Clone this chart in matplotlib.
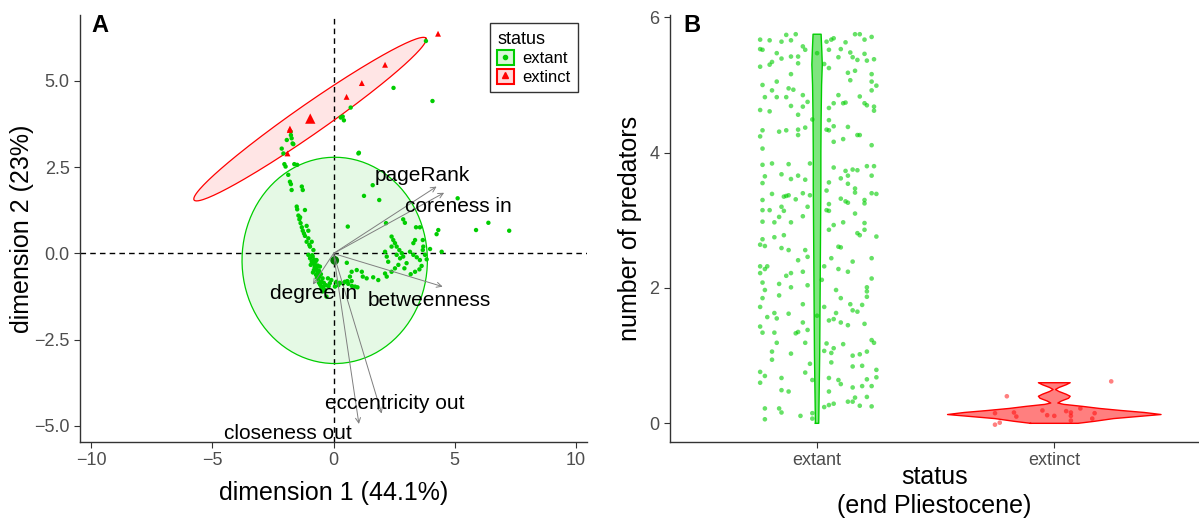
import numpy as np
import matplotlib
matplotlib.use("Agg")
import matplotlib.pyplot as plt
from matplotlib.lines import Line2D
from matplotlib.patches import Patch

plt.rcParams['font.family'] = ['Liberation Sans', 'DejaVu Sans']

# ---- panel A: PCA biplot ----
extant_x = [3.82, 2.48, 4.09, 0.71, 0.38, 0.43, 0.30, 1.05,
            -1.77, -1.76, -1.73, -1.69, -1.93, -2.14, -2.07, -1.66,
            -2.03, -1.98, -1.62, -1.50, -1.87, -1.80, -1.76, -1.73, -1.31, -1.27, -1.52, -1.50,
            -1.18, -1.41, -1.36, -1.31, -1.27, -1.11, -1.04, -1.18, -1.04, -1.11, -0.90, -0.97,
            -0.83, -1.04, -1.45, -1.38, -1.22, -1.00,
            -0.97, -0.90, -0.83, -0.76, -0.70, -0.94, -0.81, -0.67, -0.72, -0.58, -0.62, -0.49,
            -0.55, -0.42, -0.35, -0.29, -0.45, -0.86, -0.70, -0.56,
            -0.88, -0.80, -0.75, -0.65, -0.60, -0.52, -0.68, -0.40, -0.50, -0.30, -0.62, -0.78,
            -0.85, -0.60, -0.45,
            -0.23, -0.09, 0.12, 0.26, 0.47, 0.61, 0.76, 0.89, 0.99, 0.06, -0.15, 0.57, 0.40,
            0.75, -0.20, 0.20,
            0.59, 1.03, 1.26, 1.62, 1.89, 2.17, 2.88, 2.95, 3.41, 3.57, 4.33, 4.26, 5.13, 5.89,
            6.40, 7.26, 3.99, 4.47,
            2.40, 2.47, 2.54, 2.61, 2.72, 2.82, 2.75, 2.88, 2.68, 2.54, 2.40, 2.20, 2.26, 2.13,
            2.20, 1.85, 1.64, 1.37, 1.17, 0.96, 0.75, 0.68, 0.55, 1.21,
            3.16, 3.30, 3.44, 3.57, 3.64, 3.55, 3.37, 3.19, 3.71, 3.69, 3.37, 3.30, 3.02, 2.40,
            2.61, 3.78, 3.85, 2.93, 3.69, 2.13]
extant_y = [6.16, 4.80, 4.42, 4.23, 3.97, 3.86, 3.94, 2.92,
            3.53, 3.43, 3.34, 3.19, 3.29, 3.04, 2.90, 3.17,
            2.59, 2.52, 2.59, 2.57, 2.28, 2.08, 2.01, 1.84, 1.94, 1.84, 1.36, 1.28,
            1.26, 0.99, 0.88, 0.76, 0.66, 0.80, 0.66, 0.51, 0.44, 0.34, 0.34, 0.20,
            0.10, -0.04, 1.10, 1.05, 0.58, 0.25,
            -0.14, -0.23, -0.28, -0.36, -0.43, -0.33, -0.48, -0.53, -0.62, -0.67, -0.77, -0.82,
            -0.91, -0.96, -1.06, -1.25, -0.72, -0.09, -0.19, -0.38,
            -0.05, -0.18, -0.25, -0.35, -0.50, -0.60, -0.70, -0.85, -1.00, -0.92, -0.58, -0.40,
            -0.55, -0.85, -1.10,
            -0.72, -0.77, -0.82, -0.85, -0.82, -0.88, -0.94, -0.96, -0.98, -0.96, -0.86, -0.80, -0.87,
            -0.80, -0.95, -0.92,
            0.78, 2.90, 1.67, 1.98, 1.55, 0.88, 0.99, 0.89, 0.76, 0.76, 0.68, 0.56, 1.60, 0.68,
            0.89, 0.66, 0.13, 0.05,
            0.49, 0.39, 0.30, 0.20, 0.10, 0.01, -0.14, -0.09, -0.33, -0.43, -0.53, -0.09, -0.24, -0.58,
            -0.67, -0.77, -0.69, -0.72, -0.53, -0.48, -0.53, -0.67, -0.27, -0.67,
            0.05, -0.04, -0.11, -0.19, -0.36, -0.46, -0.53, -0.60, 0.20, 0.10, 0.39, 0.30, -0.28, 0.20,
            -0.04, -0.04, -0.17, -0.43, 0.39, 0.05]
extinct_x = [4.32, 2.13, 1.17, 0.54, -1.81, -1.80, -1.90]
extinct_y = [6.37, 5.47, 4.94, 4.54, 3.58, 3.62, 2.90]
mean_extant = (0.05, -0.20)
mean_extinct = (-0.96, 3.91)

# ellipses: centre, first and second half-axis vectors
ell_extant = [(0.05, -0.20), (3.83, 0.0), (0.0, 2.99)]
ell_extinct = [(-0.97, 3.895), (4.79, 2.345), (0.35, -0.35)]

var_names = ['pageRank', 'coreness in', 'betweenness', 'degree in', 'eccentricity out', 'closeness out']
var_x = [4.26, 4.57, 4.51, -0.85, 1.99, 1.05]
var_y = [1.94, 1.76, -0.96, -0.90, -4.64, -4.94]
lab_x = [3.69, 5.15, 3.94, -0.81, 2.54, -1.87]
lab_y = [2.25, 1.37, -1.35, -1.17, -4.36, -5.23]

# ---- panel B: number of predators ----
b_extant_off = [-0.24, -0.20, -0.15, -0.13, -0.09, -0.11, -0.24, -0.23, -0.06, -0.05, 0.04, 0.06, 0.07, 0.05,
                0.10, 0.12, 0.16, 0.18, 0.20, 0.23, 0.00,
                -0.20, -0.19, -0.24, -0.17, -0.15, -0.11, -0.08, -0.08, 0.03, 0.05, 0.09, 0.14, 0.15,
                0.17, 0.20, 0.21, 0.24, 0.13, 0.16, 0.23, -0.11, -0.23, -0.17, -0.12, -0.10, 0.23,
                0.25, 0.23, 0.14, 0.09, -0.19, -0.22, -0.17, -0.13, -0.06,
                -0.20, -0.24, -0.11, -0.06, -0.04, 0.05, 0.07, 0.11, 0.12, 0.18, 0.20, 0.21, 0.24,
                0.24, -0.08, -0.02, 0.05, 0.07, -0.16, -0.13, -0.23, -0.08, -0.08, -0.05, 0.04, 0.05,
                0.13, 0.17, 0.18, 0.23, 0.11, 0.07,
                -0.24, -0.23, -0.19, -0.12, -0.23, -0.22, -0.23, -0.15, -0.11, -0.08, -0.05, -0.03,
                0.07, 0.10, 0.12, 0.13, 0.15, 0.17, 0.21, 0.24, 0.23, 0.05, 0.13, 0.16, 0.16, 0.23,
                0.25, -0.23, -0.19, -0.14, -0.13, -0.12, -0.09, -0.06, -0.03, 0.04, 0.05, 0.10, 0.12,
                0.13, 0.20, 0.20,
                -0.23, -0.20, -0.15, -0.14, -0.16, -0.23, -0.18, -0.11, -0.06, -0.04, 0.04, 0.05, 0.07,
                0.11, 0.16, 0.17, 0.18, 0.20, 0.20, 0.25, -0.23, -0.18, -0.14, -0.24, -0.22, -0.15,
                -0.12, -0.05, -0.04, -0.08, 0.05, 0.09, 0.10, 0.06, 0.15, 0.23, -0.24, -0.22, -0.21,
                -0.24, -0.13, -0.11, -0.06, 0.03, 0.09, 0.13, 0.23, -0.23, -0.16, -0.04, -0.11, 0.02,
                0.21, -0.22, 0.08, 0.21, 0.21, -0.16, -0.23, 0.10, -0.24, -0.06, 0.03, 0.14, 0.19,
                0.15, -0.18, -0.12, 0.08, 0.17, -0.21, -0.17, 0.00, 0.05, 0.07, 0.10, 0.13, -0.06,
                0.20, -0.24, -0.18, -0.09, -0.08, -0.04, -0.23,
                -0.17, -0.05, 0.23, 0.24, 0.11, 0.07, 0.04, -0.19, -0.11, 0.03, 0.21, 0.18, 0.15,
                -0.19, 0.06, -0.03, 0.06, -0.24, 0.25, 0.15, 0.19, -0.22, -0.05, -0.15, -0.02, 0.05,
                0.09, 0.21, 0.25, -0.24, 0.10, 0.15, 0.19, 0.23, 0.05, -0.15, -0.12, 0.13, 0.15,
                0.16, 0.21, 0.07, 0.05, 0.03, 0.18, 0.23, -0.22, -0.16, -0.15, -0.02, -0.07, -0.02,
                -0.22]
b_extant_y = [5.67, 5.66, 5.64, 5.74, 5.75, 5.66, 5.53, 5.52, 5.57, 5.52, 5.64, 5.67, 5.69, 5.52,
              5.53, 5.63, 5.75, 5.75, 5.67, 5.71, 5.47,
              5.30, 5.34, 5.27, 5.47, 5.39, 5.42, 5.42, 5.32, 5.31, 5.25, 5.41, 5.48, 5.41,
              5.37, 5.46, 5.36, 5.38, 5.18, 5.21, 5.16, 5.16, 5.00, 5.05, 4.95, 4.93, 5.05,
              4.99, 4.92, 5.07, 4.85, 4.92, 4.82, 4.82, 4.82, 4.85,
              4.61, 4.63, 4.69, 4.68, 4.75, 4.66, 4.73, 4.73, 4.74, 4.83, 4.73, 4.70, 4.68,
              4.62, 4.56, 4.49, 4.48, 4.39, 4.31, 4.33, 4.33, 4.34, 4.26, 4.37, 4.34, 4.33,
              4.38, 4.26, 4.26, 4.11, 4.20, 4.16,
              4.24, 4.06, 3.84, 3.83, 3.82, 3.65, 3.55, 3.68, 3.61, 3.66, 3.60, 3.84,
              3.78, 3.62, 3.73, 3.66, 3.75, 3.74, 3.80, 3.80, 3.66, 3.56, 3.54, 3.47, 3.41, 3.40,
              3.39, 3.30, 3.39, 3.35, 3.36, 3.37, 3.31, 3.40, 3.37, 3.44, 3.24, 3.32, 3.28,
              3.26, 3.30, 3.25,
              3.15, 3.15, 3.20, 3.14, 3.05, 2.98, 2.97, 2.97, 3.06, 3.20, 3.15, 3.14, 2.93,
              2.97, 3.10, 2.81, 2.78, 2.96, 2.86, 2.76, 2.72, 2.75, 2.78, 2.64, 2.62, 2.59,
              2.56, 2.56, 2.46, 2.41, 2.86, 2.61, 2.60, 2.44, 2.39, 2.44, 2.32, 2.28, 2.32,
              2.22, 2.18, 2.22, 2.24, 2.32, 2.28, 2.24, 2.14, 2.08, 2.06, 2.04, 2.01, 2.12,
              2.01, 1.97, 1.97, 1.95, 1.87, 1.89, 1.85, 1.85, 1.72, 1.76, 1.72, 1.76, 1.75,
              1.67, 1.63, 1.62, 1.63, 1.65, 1.57, 1.55, 1.59, 1.52, 1.54, 1.49, 1.45, 1.49,
              1.47, 1.43, 1.34, 1.33, 1.35, 1.38, 1.34,
              1.19, 1.19, 1.23, 1.19, 1.17, 1.11, 1.18, 1.06, 1.03, 1.07, 1.06, 1.02, 1.00,
              0.94, 1.04, 0.88, 0.90, 0.76, 0.79, 0.84, 0.85, 0.70, 0.75, 0.67, 0.64, 0.67,
              0.64, 0.65, 0.68, 0.60, 0.58, 0.53, 0.55, 0.55, 0.47, 0.49, 0.47, 0.32, 0.32,
              0.38, 0.39, 0.29, 0.27, 0.24, 0.26, 0.25, 0.22, 0.22, 0.16, 0.15, 0.11, 0.07,
              0.06]
b_extinct_off = [-0.20, 0.24, -0.25, -0.17, -0.16, -0.05, -0.23, -0.25, -0.03, 0.00, 0.07, 0.07,
                 0.07, 0.05, 0.11, 0.16, 0.17]
b_extinct_y = [0.40, 0.62, 0.15, 0.16, 0.10, 0.19, 0.01, -0.02, 0.12, 0.11, 0.16, 0.11, 0.04,
               0.18, 0.22, 0.07, 0.15]

violin_extant_y = [0.0, 0.5, 1.0, 1.5, 2.0, 2.5, 3.0, 3.5, 4.0, 4.5, 5.0, 5.3, 5.5, 5.75]
violin_extant_w = [0.007, 0.009, 0.011, 0.012, 0.013, 0.014, 0.015, 0.016, 0.016, 0.017, 0.019,
                   0.022, 0.020, 0.017]
violin_extinct_y = [0.00, 0.03, 0.07, 0.10, 0.13, 0.16, 0.19, 0.22, 0.25, 0.28, 0.30, 0.33, 0.37,
                    0.40, 0.43, 0.47, 0.50, 0.53, 0.57, 0.60]
violin_extinct_w = [0.10, 0.17, 0.25, 0.35, 0.45, 0.38, 0.28, 0.19, 0.12, 0.04, 0.015, 0.03, 0.06,
                    0.067, 0.05, 0.02, 0.005, 0.02, 0.05, 0.067]

green = '#00CD00'
red = '#FF0000'
tick_col = '#4D4D4D'

fig = plt.figure(figsize=(11.99, 5.25), dpi=100)
axA = fig.add_axes([80 / 1199, 83 / 525, 507 / 1199, 427 / 525])
axB = fig.add_axes([670 / 1199, 83 / 525, 529 / 1199, 427 / 525])

for ax in (axA, axB):
    for s in ('top', 'right'):
        ax.spines[s].set_visible(False)
    for s in ('left', 'bottom'):
        ax.spines[s].set_color('#333333')
        ax.spines[s].set_linewidth(1.0)
    ax.tick_params(colors='#333333', labelcolor=tick_col, labelsize=13, length=4, width=0.8)

# panel A
t = np.linspace(0, 2 * np.pi, 200)
for (c, a, b), col in ((ell_extant, green), (ell_extinct, red)):
    ex = c[0] + np.cos(t) * a[0] + np.sin(t) * b[0]
    ey = c[1] + np.cos(t) * a[1] + np.sin(t) * b[1]
    axA.fill(ex, ey, facecolor=col, alpha=0.1, edgecolor='none', zorder=1)
    axA.plot(ex, ey, color=col, lw=0.9, zorder=2)

axA.axhline(0, color='black', lw=1.0, ls=(0, (4, 3)), zorder=1.5)
axA.axvline(0, color='black', lw=1.0, ls=(0, (4, 3)), zorder=1.5)

axA.scatter(extant_x, extant_y, s=10, color=green, edgecolors='none', zorder=3)
axA.scatter(extinct_x, extinct_y, s=18, color=red, marker='^', edgecolors='none', zorder=3)
axA.scatter([mean_extant[0]], [mean_extant[1]], s=40, color='#007A00', edgecolors='none', zorder=3)
axA.scatter([mean_extinct[0]], [mean_extinct[1]], s=55, color=red, marker='^', edgecolors='none', zorder=3)

for name, vx, vy, lx, ly in zip(var_names, var_x, var_y, lab_x, lab_y):
    axA.annotate('', xy=(vx, vy), xytext=(0, 0),
                 arrowprops=dict(arrowstyle='->', color='#7F7F7F', lw=0.7,
                                 shrinkA=0, shrinkB=0, mutation_scale=9), zorder=4)
    axA.text(lx, ly, name, fontsize=15, ha='center', va='center', color='black', zorder=5)

axA.set_xlim(-10.475, 10.475)
axA.set_ylim(-5.464, 6.913)
axA.set_xticks([-10, -5, 0, 5, 10])
axA.set_yticks([-5, -2.5, 0, 2.5, 5])
axA.set_yticklabels(['\u22125.0', '\u22122.5', '0.0', '2.5', '5.0'])
axA.set_xlabel('dimension 1 (44.1%)', fontsize=18, labelpad=8)
axA.set_ylabel('dimension 2 (23%)', fontsize=18, va='center')
axA.yaxis.set_label_coords(-0.114, 0.5)

handles = [(Patch(facecolor=green, alpha=0.15), Patch(facecolor='none', edgecolor=green, lw=1.5),
            Line2D([], [], marker='o', color=green, ls='none', markersize=3)),
           (Patch(facecolor=red, alpha=0.15), Patch(facecolor='none', edgecolor=red, lw=1.5),
            Line2D([], [], marker='^', color=red, ls='none', markersize=4))]
leg = axA.legend(handles, ['extant', 'extinct'], title='status', loc='upper right',
                 bbox_to_anchor=(0.982, 0.981), borderaxespad=0, fontsize=12, title_fontsize=13,
                 handlelength=1.0, handleheight=1.0, handletextpad=0.5,
                 borderpad=0.45, labelspacing=0.15, frameon=True, fancybox=False)
leg.get_frame().set_edgecolor('black')
leg.get_frame().set_linewidth(1.0)
leg._legend_box.align = 'left'

# panel B
for pos, vy, vw, col in ((1, violin_extant_y, violin_extant_w, green),
                         (2, violin_extinct_y, violin_extinct_w, red)):
    vy = np.array(vy)
    vw = np.array(vw)
    xs = np.concatenate([pos - vw, (pos + vw)[::-1]])
    ys = np.concatenate([vy, vy[::-1]])
    axB.fill(xs, ys, facecolor=col, alpha=0.5, edgecolor='none', zorder=2)
    axB.plot(np.append(xs, xs[0]), np.append(ys, ys[0]), color=col, lw=1.0, zorder=3)

axB.scatter(1 + np.array(b_extant_off), b_extant_y, s=11, color=green, alpha=0.6,
            edgecolors='none', zorder=4)
axB.scatter(2 + np.array(b_extinct_off), b_extinct_y, s=11, color=red, alpha=0.5,
            edgecolors='none', zorder=4)

axB.set_xlim(0.38, 2.61)
axB.set_ylim(-0.276, 6.034)
axB.set_xticks([1, 2])
axB.set_xticklabels(['extant', 'extinct'])
axB.set_yticks([0, 2, 4, 6])
axB.set_xlabel('status\n(end Pliestocene)', fontsize=18, linespacing=1.25, va='top')
axB.xaxis.set_label_coords(0.5, -0.054)
axB.set_ylabel('number of predators', fontsize=18, va='center')
axB.yaxis.set_label_coords(-0.0756, 0.5)

fig.text(100 / 1199, 1 - 25 / 525, 'A', fontsize=17, fontweight='bold', ha='center', va='center')
fig.text(692 / 1199, 1 - 25 / 525, 'B', fontsize=17, fontweight='bold', ha='center', va='center')

fig.savefig('out.png', dpi=100)
